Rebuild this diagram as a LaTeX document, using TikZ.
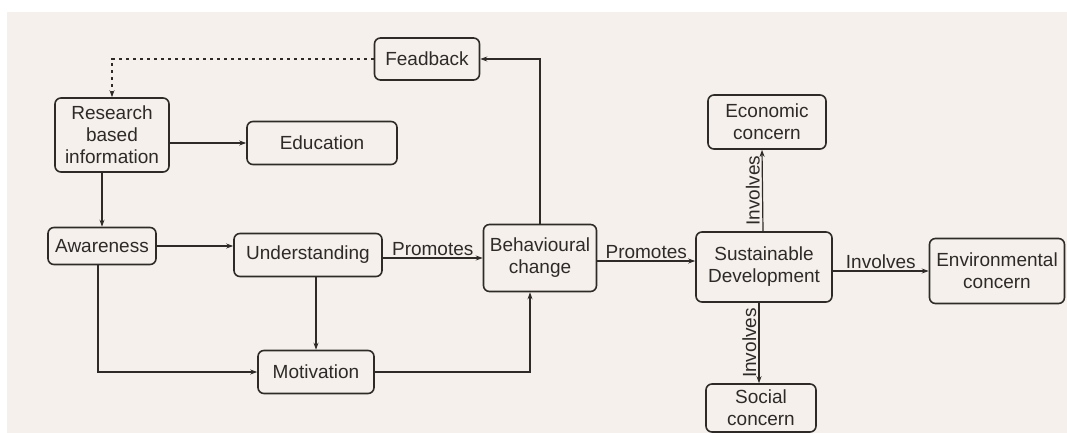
\documentclass[tikz,border=0pt]{standalone}
\usepackage{fontspec}
\setmainfont{Liberation Sans}
\usetikzlibrary{arrows.meta,calc}
\definecolor{paper}{RGB}{245,240,236}
\definecolor{ink}{RGB}{45,42,40}
\begin{document}
\begin{tikzpicture}[x=1pt,y=-1pt,
  box/.style={draw=ink,line width=1.6pt,rounded corners=6pt,align=center,
    font=\fontsize{19}{22}\selectfont,text=ink,inner sep=0pt},
  arr/.style={draw=ink,line width=1.2pt,-{Stealth[length=7pt,width=5pt]}},
  lbl/.style={font=\fontsize{19}{22}\selectfont,text=ink,inner sep=2pt}]
\useasboundingbox (0,0) rectangle (1067,433);
\fill[white] (0,0) rectangle (1067,433);
\fill[paper] (7,12) rectangle (1067,433);
% nodes
\node[box,minimum width=105pt,minimum height=42pt] (fb) at (427,59) {Feadback};
\node[box,minimum width=114pt,minimum height=74pt] (rbi) at (112,135) {Research\\based\\information};
\node[box,minimum width=150pt,minimum height=43pt] (edu) at (322,143) {Education};
\node[box,minimum width=108pt,minimum height=37pt] (aw) at (102,246) {Awareness};
\node[box,minimum width=148pt,minimum height=43pt] (und) at (308,255) {Understanding};
\node[box,minimum width=116pt,minimum height=43pt] (mot) at (316,372) {Motivation};
\node[box,minimum width=113pt,minimum height=67pt] (beh) at (540,258) {Behavioural\\change};
\node[box,minimum width=136pt,minimum height=70pt] (sd) at (764,267) {Sustainable\\Development};
\node[box,minimum width=118pt,minimum height=54pt] (eco) at (767,122) {Economic\\concern};
\node[box,minimum width=110pt,minimum height=48pt] (soc) at (761,408) {Social\\concern};
\node[box,minimum width=135pt,minimum height=65pt] (env) at (997,271) {Environmental\\concern};
% connectors
\draw[arr] (rbi.east |- edu.west) -- (edu.west);
\draw[arr] (aw.north |- rbi.south) -- (aw.north);
\draw[draw=ink,line width=2pt,dash pattern=on 3pt off 4pt,-{Stealth[length=7pt,width=5pt]}] (fb.west) -| (rbi.north);
\draw[arr] (beh.north) |- (fb.east);
\draw[arr] (aw.east) -- (aw.east -| und.west);
\draw[arr] ($(und.east)+(0,3)$) -- node[lbl,above] {Promotes} ($(und.east -| beh.west)+(0,3)$);
\draw[arr] (mot.north |- und.south) -- (mot.north);
\draw[arr] ($(aw.south)+(-4,0)$) |- (mot.west);
\draw[arr] (mot.east) -| ($(beh.south)+(-10,0)$);
\draw[arr] ($(beh.east)+(0,3)$) -- node[lbl,above] {Promotes} ($(beh.east -| sd.west)+(0,3)$);
\draw[arr] ($(sd.north)+(-1,0)$) -- node[lbl,left,rotate=90,anchor=south] {Involves} ($(eco.south)+(-5,0)$);
\draw[arr] ($(sd.south)+(-5,0)$) -- node[lbl,rotate=90,anchor=south] {Involves} ($(soc.north)+(-2,0)$);
\draw[arr] ($(sd.east)+(0,4)$) -- node[lbl,above] {Involves} ($(sd.east -| env.west)+(0,4)$);
\end{tikzpicture}
\end{document}
